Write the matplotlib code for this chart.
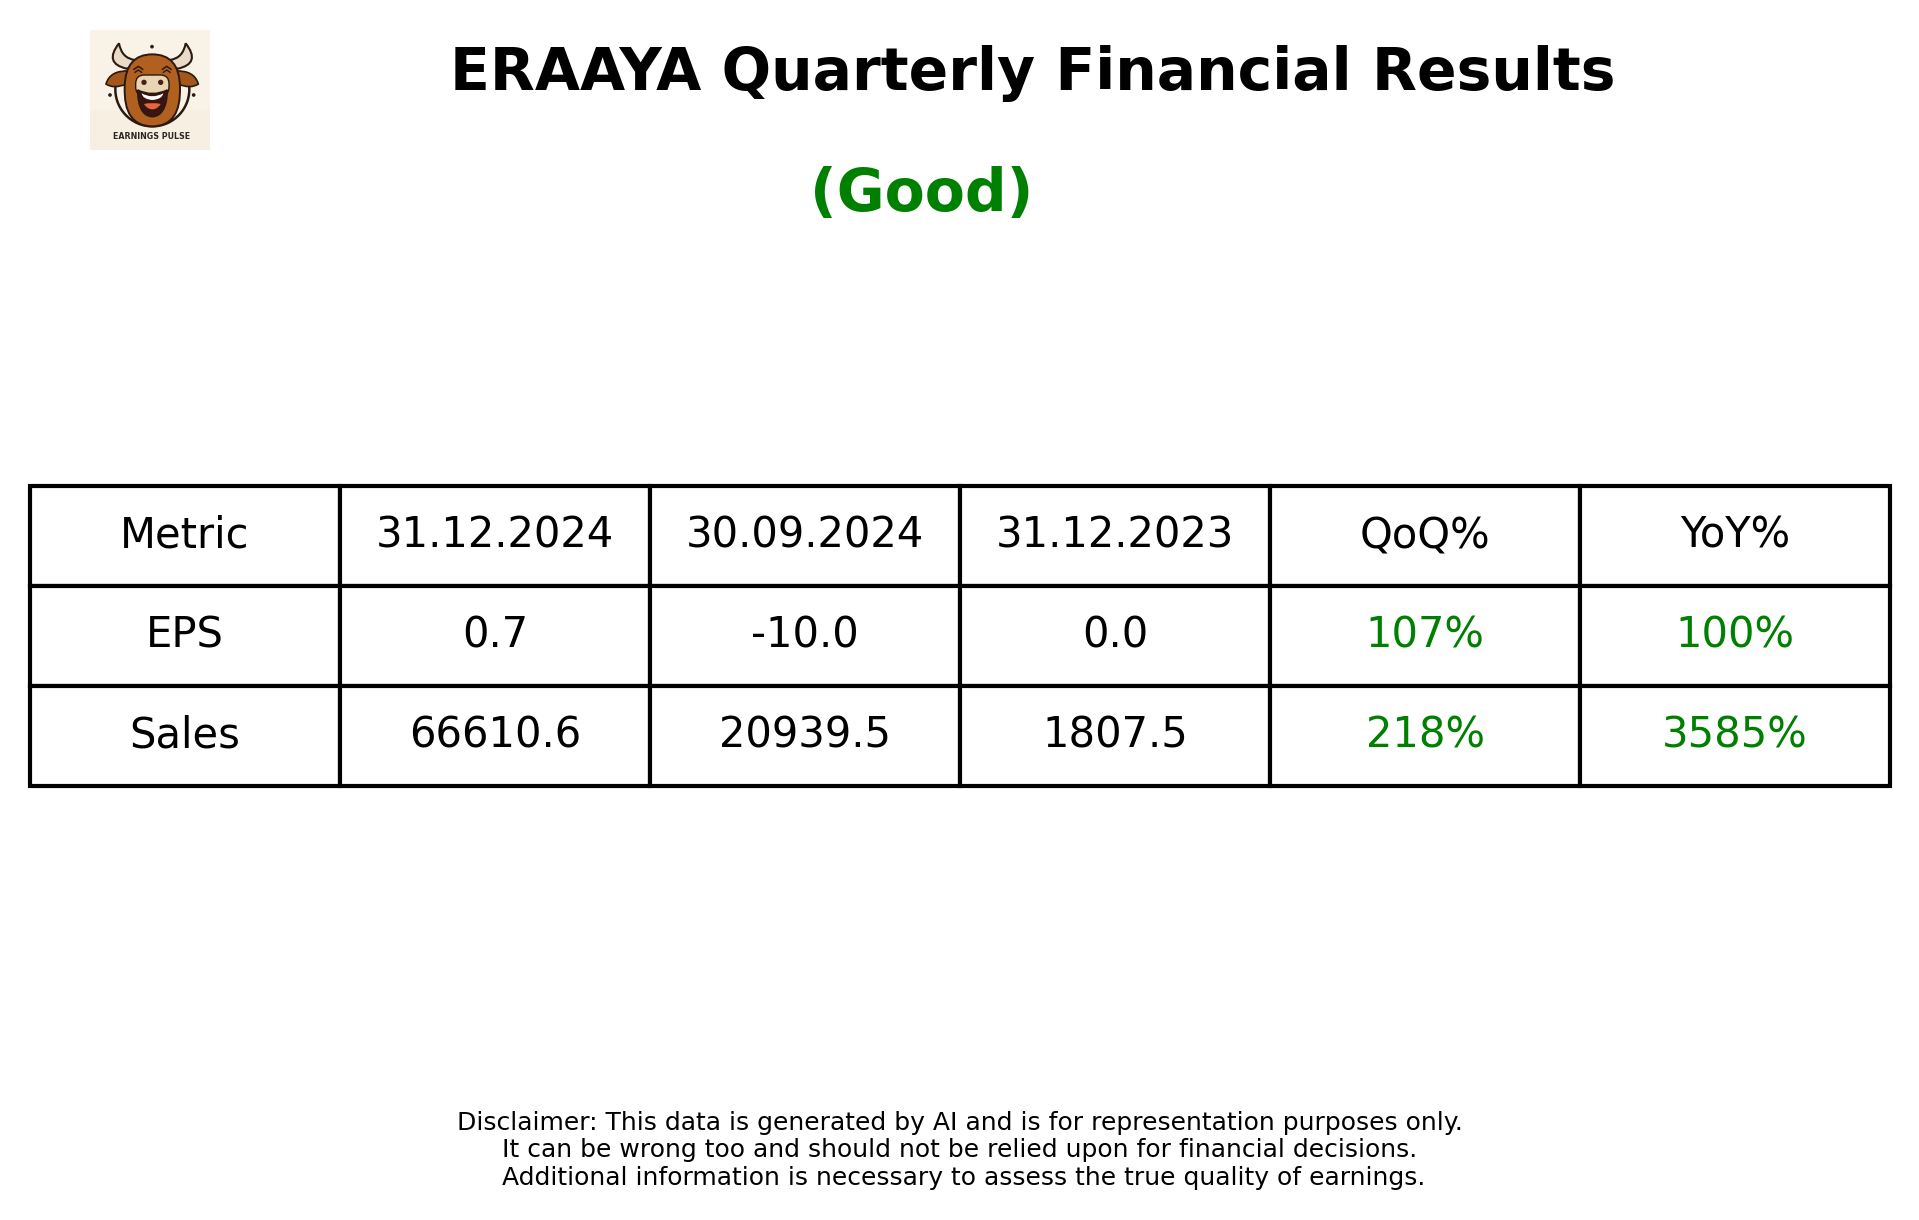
"""Quarterly results card: title, rating, comparison table, logo and disclaimer."""

import matplotlib

matplotlib.use("Agg")

import matplotlib.pyplot as plt
from matplotlib.patches import Arc, Circle, FancyBboxPatch, PathPatch, Rectangle
from matplotlib.path import Path

COMPANY = "ERAAYA"
RATING = "(Good)"
COLUMNS = ["Metric", "31.12.2024", "30.09.2024", "31.12.2023", "QoQ%", "YoY%"]
METRICS = ["EPS", "Sales"]
CURRENT = [0.7, 66610.6]
PREVIOUS = [-10.0, 20939.5]
YEAR_AGO = [0.0, 1807.5]
QOQ = [107, 218]
YOY = [100, 3585]
DISCLAIMER = (
    "Disclaimer: This data is generated by AI and is for representation purposes only.\n"
    "It can be wrong too and should not be relied upon for financial decisions.\n"
    " Additional information is necessary to assess the true quality of earnings."
)

W, H = 1919, 1220
GREEN = "#008000"


def curve(ax, verts, face, edge="#2b1a10", lw=1.2, z=2):
    # closed quadratic bezier outline: start point, then (control, end) pairs
    codes = [Path.MOVETO] + [Path.CURVE3] * (len(verts) - 1) + [Path.CLOSEPOLY]
    path = Path(list(verts) + [verts[0]], codes)
    ax.add_patch(PathPatch(path, facecolor=face, edgecolor=edge, lw=lw, zorder=z))


def draw_logo(fig):
    # axes units follow a 3x crop of the logo, 360 units across
    ax = fig.add_axes([90 / W, 1 - 150 / H, 120 / W, 120 / H])
    ax.set_xlim(60, 420)
    ax.set_ylim(420, 60)
    ax.axis("off")
    ax.add_patch(Rectangle((60, 60), 360, 360, facecolor="#f8f2e7", edgecolor="none", zorder=0))
    ax.add_patch(Rectangle((60, 300), 360, 120, facecolor="#f7efe2", edgecolor="none", zorder=0))

    dark = "#2b1a10"
    # horns
    curve(ax, [(147, 100), (100, 160), (170, 176), (188, 170), (195, 150), (155, 145), (147, 100)], "#e8dcc8", lw=1.5)
    curve(ax, [(347, 100), (394, 160), (324, 176), (306, 170), (299, 150), (339, 145), (347, 100)], "#e8dcc8", lw=1.5)
    # ears
    curve(ax, [(108, 222), (120, 180), (178, 183), (182, 210), (170, 222), (130, 238), (108, 222)], "#a4561b")
    curve(ax, [(385, 222), (373, 180), (315, 183), (311, 210), (323, 222), (363, 238), (385, 222)], "#a4561b")
    # lower ring and head
    ax.add_patch(Arc((247, 238), 222, 222, theta1=-5, theta2=185, color=dark, lw=1.8, zorder=1))
    curve(ax, [(247, 133), (328, 133), (330, 230), (334, 349), (247, 349), (160, 349), (164, 230), (166, 133), (247, 133)],
          "#b2601f", lw=1.4, z=3)
    # eyes
    for x in (205, 290):
        ax.plot([x - 13, x, x + 13], [178, 169, 178], color=dark, lw=1.1, zorder=4)
        ax.plot([x - 10, x, x + 10], [187, 180, 187], color=dark, lw=1.0, zorder=4)
    # muzzle and nostrils
    ax.add_patch(FancyBboxPatch((197, 195), 100, 62, boxstyle="round,pad=0,rounding_size=1", mutation_scale=26,
                                facecolor="#e9d4b4", edgecolor=dark, lw=1.0, zorder=4))
    for x in (222, 272):
        ax.add_patch(Circle((x, 217), 8, facecolor="#4a2015", edgecolor="none", zorder=5))
    # mouth, teeth, tongue
    curve(ax, [(203, 240), (247, 262), (292, 240), (290, 318), (247, 320), (204, 318), (203, 240)], "#3a1510", z=5)
    curve(ax, [(215, 250), (247, 268), (280, 250), (276, 268), (247, 270), (218, 268), (215, 250)], "#ffffff", edge="none", z=6)
    curve(ax, [(222, 282), (247, 276), (272, 282), (262, 298), (247, 298), (232, 298), (222, 282)], "#e8663a", edge="none", z=6)
    # sparkle dots
    for x, y in [(246, 110), (120, 255), (371, 255)]:
        ax.add_patch(Circle((x, y), 5.5, facecolor=dark, edgecolor="none", zorder=2))
    ax.text(245, 380, "EARNINGS PULSE", ha="center", va="center", fontsize=5.7, fontweight="bold", color="#2b2622")


def main():
    fig = plt.figure(figsize=(W / 100, H / 100), dpi=100, facecolor="white")
    ax = fig.add_axes([0, 0, 1, 1])
    ax.axis("off")

    ax.text(1033 / W, 1 - 73 / H, f"{COMPANY} Quarterly Financial Results", ha="center", va="center",
            fontsize=42, fontweight="bold", color="black")
    ax.text(922 / W, 1 - 194 / H, RATING, ha="center", va="center", fontsize=42, fontweight="bold", color=GREEN)

    rows = [COLUMNS]
    for i, metric in enumerate(METRICS):
        rows.append([metric, f"{CURRENT[i]:.1f}", f"{PREVIOUS[i]:.1f}", f"{YEAR_AGO[i]:.1f}",
                     f"{QOQ[i]}%", f"{YOY[i]}%"])

    left, right, top, bottom = 30, 1890, 486, 786
    table = ax.table(cellText=rows, cellLoc="center",
                     bbox=[left / W, 1 - bottom / H, (right - left) / W, (bottom - top) / H])
    table.auto_set_font_size(False)
    for (r, c), cell in table.get_celld().items():
        cell.set_linewidth(3)
        cell.set_edgecolor("black")
        cell.get_text().set_fontsize(30)
        if r > 0 and c >= 4:
            cell.get_text().set_color(GREEN)

    ax.text(960 / W, 1 - 1150.5 / H, DISCLAIMER, ha="center", va="center", fontsize=18, color="black",
            multialignment="center")

    draw_logo(fig)
    fig.savefig("out.png", dpi=100)
    plt.close(fig)


if __name__ == "__main__":
    main()
